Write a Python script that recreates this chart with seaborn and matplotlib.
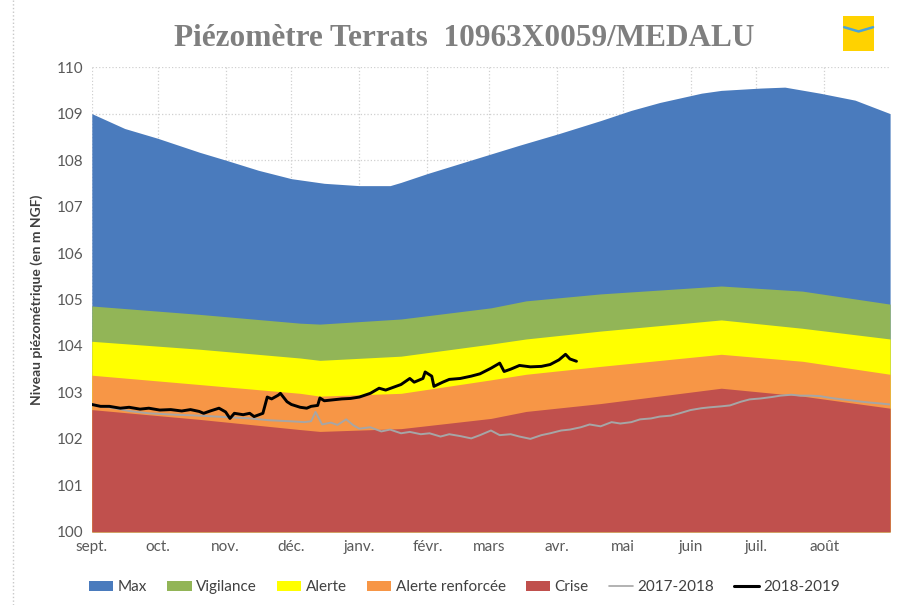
import numpy as np
import pandas as pd
import matplotlib.pyplot as plt
import seaborn as sns
from matplotlib.patches import Patch, Rectangle
from matplotlib.lines import Line2D

# x axis = days since 1 September
month_labels = ["sept.", "oct.", "nov.", "déc.", "janv.", "févr.",
                "mars", "avr.", "mai", "juin", "juil.", "août"]
month_days = [0, 30, 61, 91, 122, 153, 181, 212, 242, 273, 303, 334]

# upper envelope "Max"
max_days = [0, 15, 30, 49, 61, 76, 91, 106, 122, 136, 141, 153, 175, 195,
            213, 232, 246, 259, 278, 287, 305, 316, 332, 348, 364]
max_top = [109.0, 108.68, 108.47, 108.17, 108.0, 107.78, 107.6, 107.5, 107.45,
           107.45, 107.52, 107.71, 108.03, 108.32, 108.57, 108.85, 109.07,
           109.24, 109.44, 109.5, 109.55, 109.57, 109.44, 109.29, 109.0]

# threshold bands
band_days = [0, 49, 95, 104, 141, 182, 198, 232, 287, 324, 364]
vigilance_top = [104.86, 104.68, 104.49, 104.47, 104.58, 104.82, 104.97, 105.12, 105.29, 105.18, 104.9]
alerte_top = [104.1, 103.93, 103.74, 103.69, 103.78, 104.04, 104.15, 104.32, 104.56, 104.38, 104.15]
renforcee_top = [103.37, 103.17, 102.98, 102.92, 102.98, 103.27, 103.39, 103.56, 103.82, 103.67, 103.39]
crise_top = [102.63, 102.42, 102.2, 102.16, 102.22, 102.44, 102.59, 102.76, 103.09, 102.92, 102.66]

# 2017-2018 record
y1718_days = [0, 4, 8, 17, 26, 38, 49, 61, 72, 81, 90, 97, 100, 102, 105, 109,
              112, 116, 119, 122, 127, 132, 136, 141, 145, 150, 154, 159, 163,
              168, 173, 177, 182, 186, 191, 195, 200, 205, 209, 214, 218, 223,
              227, 232, 237, 241, 246, 250, 255, 259, 264, 268, 273, 278, 282,
              287, 291, 296, 300, 305, 310, 314, 319, 323, 328, 332, 337, 342,
              346, 351, 355, 360, 364]
y1718_level = [102.75, 102.7, 102.68, 102.6, 102.55, 102.52, 102.5, 102.47,
               102.44, 102.4, 102.38, 102.36, 102.38, 102.58, 102.31, 102.35,
               102.3, 102.42, 102.3, 102.22, 102.25, 102.16, 102.2, 102.12,
               102.15, 102.1, 102.12, 102.05, 102.1, 102.06, 102.01, 102.08,
               102.18, 102.08, 102.1, 102.05, 102.0, 102.08, 102.12, 102.18,
               102.2, 102.25, 102.31, 102.27, 102.36, 102.33, 102.36, 102.42,
               102.44, 102.48, 102.5, 102.55, 102.62, 102.66, 102.68, 102.7,
               102.72, 102.8, 102.85, 102.87, 102.9, 102.93, 102.95, 102.93,
               102.93, 102.92, 102.88, 102.85, 102.83, 102.8, 102.78, 102.76,
               102.74]

# 2018-2019 record
y1819_days = [0, 4, 8, 13, 17, 22, 26, 31, 36, 41, 45, 49, 51, 54, 58, 61, 63,
              65, 69, 72, 74, 78, 80, 82, 85, 86, 89, 91, 95, 98, 100, 103, 104,
              106, 110, 114, 118, 122, 127, 131, 134, 141, 145, 147, 151, 152,
              155, 156, 160, 163, 168, 173, 177, 182, 186, 188, 191, 195, 200,
              205, 209, 213, 216, 218, 221]
y1819_level = [102.74, 102.7, 102.7, 102.66, 102.68, 102.64, 102.66, 102.62,
               102.63, 102.6, 102.63, 102.59, 102.55, 102.6, 102.66, 102.58,
               102.44, 102.55, 102.52, 102.55, 102.48, 102.55, 102.9, 102.86,
               102.94, 102.98, 102.8, 102.74, 102.68, 102.66, 102.7, 102.72,
               102.88, 102.82, 102.84, 102.86, 102.87, 102.9, 102.98, 103.09,
               103.05, 103.17, 103.3, 103.22, 103.3, 103.44, 103.35, 103.13,
               103.22, 103.28, 103.3, 103.35, 103.4, 103.52, 103.63, 103.45,
               103.5, 103.58, 103.55, 103.56, 103.6, 103.7, 103.82, 103.72,
               103.67]

colors = {
    "Max": "#4a7bbd",
    "Vigilance": "#92b557",
    "Alerte": "#ffff00",
    "Alerte renforcée": "#f79646",
    "Crise": "#c0504d",
}

sns.set_theme(style="whitegrid")
plt.rcParams["font.family"] = ["Lato", "DejaVu Sans"]

fig = plt.figure(figsize=(9, 6.05), dpi=100)
ax = fig.add_axes([0.102, 0.121, 0.887, 0.768])

layers = [
    ("Max", max_days, max_top),
    ("Vigilance", band_days, vigilance_top),
    ("Alerte", band_days, alerte_top),
    ("Alerte renforcée", band_days, renforcee_top),
    ("Crise", band_days, crise_top),
]
for name, xs, ys in layers:
    ax.fill_between(xs, 100, ys, color=colors[name], linewidth=0, zorder=2)

sns.lineplot(x=y1718_days, y=y1718_level, color="#a6a6a6", linewidth=1.4, ax=ax, zorder=3)
sns.lineplot(x=y1819_days, y=y1819_level, color="black", linewidth=2.1, ax=ax, zorder=4)

ax.set_xlim(0, 364)
ax.set_ylim(100, 110)
ax.set_yticks(range(100, 111))
ax.set_xticks(month_days)
ax.set_xticklabels(month_labels)
ax.tick_params(axis="both", length=0, labelsize=11, labelcolor="#595959", pad=6)
ax.set_axisbelow(True)
ax.grid(True, color="#d0d0d0", linestyle=":", linewidth=0.9)
for s in ax.spines.values():
    s.set_visible(False)
ax.set_xlabel("")
ax.set_ylabel("Niveau piézométrique (en m NGF)", fontsize=10, fontweight="bold",
              color="#404040", labelpad=10)

fig.text(0.516, 0.937, "Piézomètre Terrats  10963X0059/MEDALU",
         ha="center", va="center", fontsize=22.5, fontweight="bold",
         color="#7f7f7f", family="Liberation Serif")

# dotted chart border on the left
fig.lines.append(Line2D([0.014, 0.014], [0.0, 1.0], transform=fig.transFigure,
                        color="#c8c8c8", linestyle=":", linewidth=1))

# small logo block in the corner
fig.patches.append(Rectangle((0.937, 0.915), 0.034, 0.058, transform=fig.transFigure,
                             facecolor="#ffd200", edgecolor="none"))
fig.lines.append(Line2D([0.938, 0.954, 0.970], [0.955, 0.948, 0.955],
                        transform=fig.transFigure, color="#4aa3d8", linewidth=1.8))

handles = [Patch(facecolor=colors[n], edgecolor="none") for n in colors]
handles += [Line2D([], [], color="#a6a6a6", linewidth=1.2),
            Line2D([], [], color="black", linewidth=2.2)]
labels = list(colors) + ["2017-2018", "2018-2019"]
fig.legend(handles, labels, loc="lower center", bbox_to_anchor=(0.516, -0.005),
           ncol=7, frameon=False, fontsize=11, handlelength=1.6, handleheight=0.7,
           handletextpad=0.3, columnspacing=1.3, labelcolor="#404040")

fig.savefig("out.png", dpi=100)
